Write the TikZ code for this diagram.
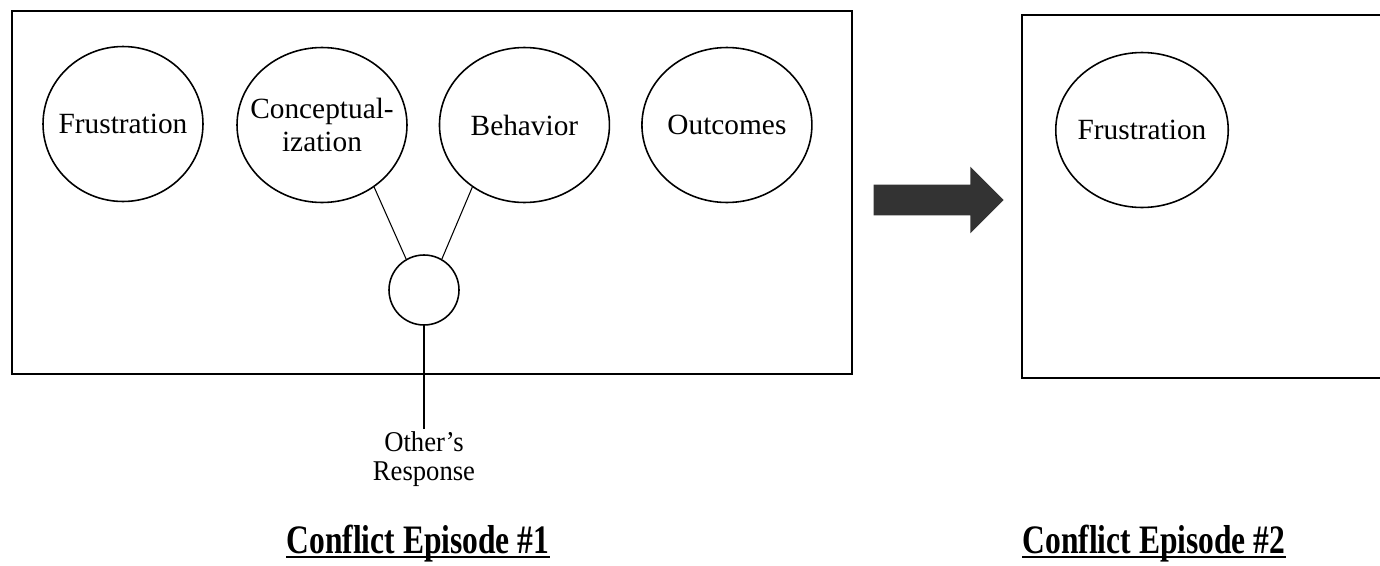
\documentclass[tikz,border=0pt]{standalone}
\usepackage{fontspec}
\setmainfont{Liberation Serif}
\newfontfamily\narrowfont[Ligatures=TeX,FakeStretch=0.78]{Liberation Serif}
\newfontfamily\slimfont[Ligatures=TeX,FakeStretch=0.93]{Liberation Serif}
\usetikzlibrary{positioning,shapes.geometric,shapes.arrows}

\begin{document}
\begin{tikzpicture}[x=0.02cm,y=-0.02cm,auto,node distance=4.05cm,
  stage node/.style={ellipse,draw,line width=0.9pt,
  minimum width=3.4cm,minimum height=3.1cm,inner sep=0pt,
  label={[stage text]center:#1}},
  stage text/.style={font=\fontsize{16.7}{19}\selectfont,align=center},
  frame/.style={line width=1.1pt},
  title node/.style={font=\narrowfont\fontsize{23}{25}\selectfont\bfseries,
  anchor=base,inner xsep=0pt}]

  \useasboundingbox (0,0) rectangle (1380,565);

  % the two episode frames (second one runs off the page)
  \draw[frame] (12,11) rectangle (852,374);
  \draw[frame] (1380,15) -- (1022,15) -- (1022,378) -- (1380,378);

  \node[stage node=Frustration,minimum width=3.2cm] (Frustration) at (123,124) {};
  \node[stage node={Conceptual-\\ization}] (Conceptualization) at (322,125) {};
  \node[stage node=Behavior] (Behavior) [right of=Conceptualization] {};
  \node[stage node=Outcomes] (Outcomes) [right of=Behavior] {};

  \node[circle,draw,line width=0.9pt,minimum size=1.4cm] (Response) at (424,290) {};
  \node[font=\slimfont\fontsize{16.3}{16.5}\selectfont,align=center,inner sep=1pt]
    (Other) at (424,459) {Other's\\Response};

  \node[single arrow,fill=black!80,inner xsep=0pt,inner ysep=0.3cm,
    minimum height=2.6cm,single arrow head extend=0.36cm] (next) at (931,200) {};

  \node[stage node=Frustration,minimum width=3.45cm] (Frustration2) at (1142,130) {};

  \path[line width=0.6pt]
    (Conceptualization.-50) edge (Response.120)
    (Behavior.-130) edge (Response.60)
    (Response) edge (Other);

  \node[title node] (Episode1) at (418,553) {Conflict Episode \#1};
  \node[title node] (Episode2) at (1154,553) {Conflict Episode \#2};
  % underlines
  \draw[line width=1.2pt] ([yshift=-2.5pt]Episode1.base west) -- ([yshift=-2.5pt]Episode1.base east);
  \draw[line width=1.2pt] ([yshift=-2.5pt]Episode2.base west) -- ([yshift=-2.5pt]Episode2.base east);
\end{tikzpicture}
\end{document}
